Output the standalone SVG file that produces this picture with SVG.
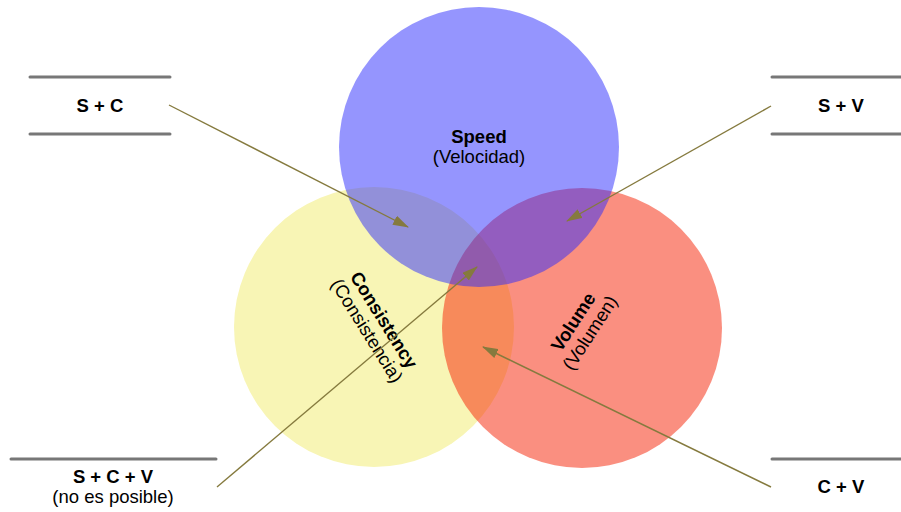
<svg xmlns="http://www.w3.org/2000/svg" width="901" height="512" viewBox="0 0 901 512">
  <style>
    text { font-family: "Liberation Sans", Arial, Helvetica, sans-serif; font-size: 18.5px; fill: #000; text-anchor: middle; }
    .b { font-weight: bold; }
    .rule { stroke: #777; stroke-width: 3; stroke-linecap: round; fill: none; }
    .arrow { stroke: #857a3e; stroke-width: 1.4; fill: none; marker-end: url(#head); }
  </style>
  <defs>
    <marker id="head" viewBox="0 0 16 10" refX="15" refY="5" markerWidth="16" markerHeight="10" markerUnits="userSpaceOnUse" orient="auto">
      <path d="M0,0 L16,5 L0,10 Z" fill="#857a3e"/>
    </marker>
  </defs>

  <rect width="901" height="512" fill="#fff"/>

  <!-- the three sets -->
  <g id="consistency">
    <circle cx="374" cy="327" r="140" fill="#f8f5b5"/>
  </g>
  <g id="volume">
    <circle cx="582" cy="328" r="140" fill="#f51f01" fill-opacity="0.5"/>
  </g>
  <g id="speed">
    <circle cx="479" cy="147" r="140" fill="#2b2bfd" fill-opacity="0.5"/>
    <text class="b" x="479" y="143">Speed</text>
    <text x="479" y="163">(Velocidad)</text>
  </g>
  <g id="consistency-label" transform="translate(376,325) rotate(58)">
    <text class="b" x="0" y="-3">Consistency</text>
    <text x="0" y="17">(Consistencia)</text>
  </g>
  <g id="volume-label" transform="translate(581,327) rotate(-57)">
    <text class="b" x="0" y="-3">Volume</text>
    <text x="0" y="17">(Volumen)</text>
  </g>

  <!-- pair labels -->
  <g id="sc">
    <line class="rule" x1="30" y1="77" x2="170" y2="77"/>
    <line class="rule" x1="30" y1="134" x2="170" y2="134"/>
    <text class="b" x="100" y="112">S + C</text>
  </g>
  <g id="sv">
    <line class="rule" x1="772" y1="77" x2="903" y2="77"/>
    <line class="rule" x1="772" y1="134" x2="903" y2="134"/>
    <text class="b" x="841" y="112">S + V</text>
  </g>
  <g id="scv">
    <line class="rule" x1="11" y1="459" x2="216" y2="459"/>
    <text class="b" x="113" y="483">S + C + V</text>
    <text x="113" y="503">(no es posible)</text>
  </g>
  <g id="cv">
    <line class="rule" x1="772" y1="459" x2="903" y2="459"/>
    <text class="b" x="841" y="493">C + V</text>
  </g>

  <!-- connectors -->
  <g id="connectors">
    <line class="arrow" x1="169" y1="105" x2="408" y2="227"/>
    <line class="arrow" x1="771" y1="106" x2="567" y2="221"/>
    <line class="arrow" x1="217" y1="487" x2="477" y2="267"/>
    <line class="arrow" x1="771" y1="487" x2="483" y2="347"/>
  </g>
</svg>
